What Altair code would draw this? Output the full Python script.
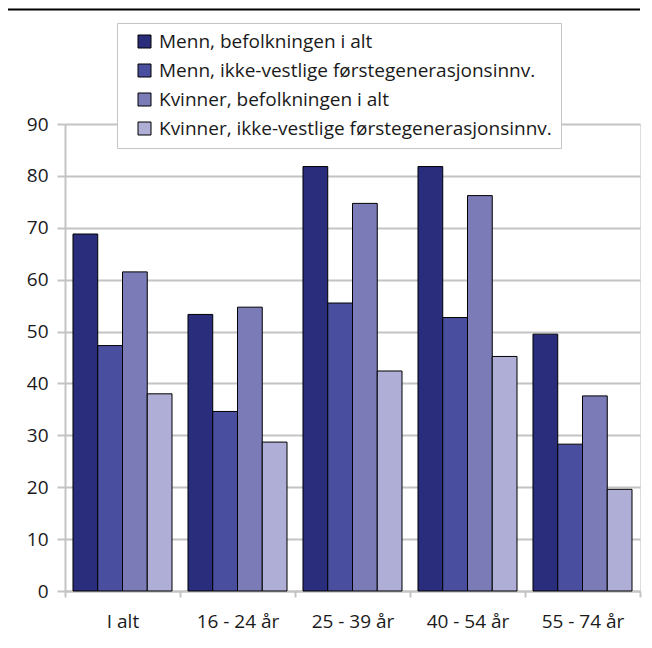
import altair as alt
import pandas as pd

categories = ["I alt", "16 - 24 år", "25 - 39 år", "40 - 54 år", "55 - 74 år"]
series = [
    "Menn, befolkningen i alt",
    "Menn, ikke-vestlige førstegenerasjonsinnv.",
    "Kvinner, befolkningen i alt",
    "Kvinner, ikke-vestlige førstegenerasjonsinnv.",
]
menn_alle = [68.8, 53.3, 81.8, 81.8, 49.5]
menn_ikkevestlige = [47.3, 34.6, 55.5, 52.7, 28.3]
kvinner_alle = [61.5, 54.7, 74.7, 76.2, 37.6]
kvinner_ikkevestlige = [38.0, 28.7, 42.4, 45.2, 19.6]
colors = ["#2a2c7c", "#4a4e9f", "#7b7bb8", "#aeaed6"]
y_ticks = [0, 10, 20, 30, 40, 50, 60, 70, 80, 90]

values_by_series = [menn_alle, menn_ikkevestlige, kvinner_alle, kvinner_ikkevestlige]
rows = []
for s, vals in zip(series, values_by_series):
    for c, v in zip(categories, vals):
        rows.append({"Gruppe": c, "Serie": s, "Verdi": v})
df = pd.DataFrame(rows)

FONT = "Open Sans"
TXT = "#1a1a1a"
GRID = "#c4c4c4"
FS = 19

bars = alt.Chart(df).mark_bar(stroke="black", strokeWidth=1).encode(
    x=alt.X(
        "Gruppe:N",
        sort=categories,
        scale=alt.Scale(paddingInner=0, paddingOuter=0),
        axis=alt.Axis(
            title=None, labelAngle=0, tickBand="extent", grid=False,
            domainColor=GRID, domainWidth=2, tickColor=GRID, tickWidth=2,
            tickSize=6, labelPadding=15, labelFontSize=FS, labelFont=FONT,
            labelColor=TXT,
        ),
    ),
    xOffset=alt.XOffset(
        "Serie:N", sort=series,
        scale=alt.Scale(paddingInner=0, paddingOuter=0.323),
    ),
    y=alt.Y(
        "Verdi:Q",
        scale=alt.Scale(domain=[0, 90], nice=False),
        axis=alt.Axis(
            title=None, values=y_ticks, grid=True, gridColor=GRID, gridWidth=2,
            domainColor=GRID, domainWidth=2, tickColor=GRID, tickWidth=2,
            tickSize=8, labelPadding=9, labelFontSize=FS, labelFont=FONT,
            labelColor=TXT,
        ),
    ),
    color=alt.Color(
        "Serie:N",
        sort=series,
        scale=alt.Scale(domain=series, range=colors),
        legend=alt.Legend(
            title=None, orient="none", legendX=52, legendY=-101,
            fillColor="white", strokeColor=GRID, padding=9,
            symbolType="square", symbolSize=169, symbolStrokeColor="black",
            symbolStrokeWidth=1, symbolOffset=9, labelFontSize=FS,
            labelFont=FONT, labelColor=TXT, rowPadding=9, labelLimit=700,
            labelOffset=5,
        ),
    ),
)

top_line = alt.Chart(pd.DataFrame({"z": [0]})).mark_rule(
    color="black", strokeWidth=2
).encode(x=alt.value(-59), x2=alt.value(575), y=alt.value(-114.5))

chart = alt.layer(bars, top_line).properties(
    width=575,
    height=467,
    autosize=alt.AutoSizeParams(type="none"),
    padding={"left": 57, "top": 116, "right": 4, "bottom": 54},
).configure_view(stroke=None).configure(font=FONT, background="white")

chart.save("out.html", embed_options={"renderer": "svg", "actions": False})
